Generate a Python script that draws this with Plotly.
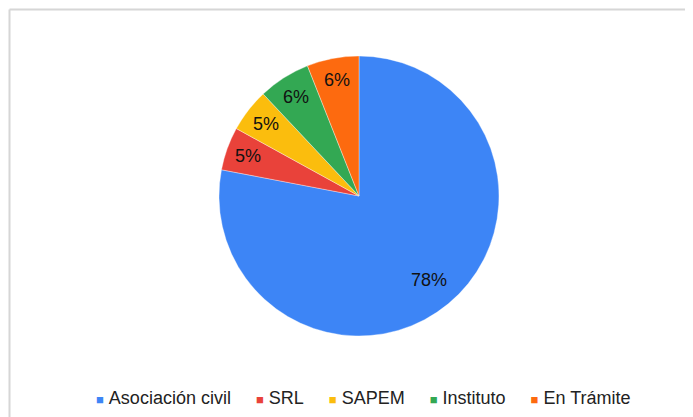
import math
import plotly.graph_objects as go

categories = ["Asociación civil", "SRL", "SAPEM", "Instituto", "En Trámite"]
shares = [78, 5, 5, 6, 6]
colors = ["#3d85f6", "#e9423a", "#fbbd0d", "#33a853", "#fd6a0f"]

# page has an 8px body margin, so the figure is a bit smaller than the window
W, H = 685, 409
CX, CY, R = 351, 188, 140

fig = go.Figure(go.Pie(
    labels=categories, values=shares, sort=False, direction="clockwise", rotation=0,
    marker=dict(colors=colors, line=dict(color="rgba(255,255,255,0.6)", width=0.6)),
    textinfo="none",
    domain=dict(x=[(CX - R) / W, (CX + R) / W], y=[1 - (CY + R) / H, 1 - (CY - R) / H]),
    hoverinfo="label+percent",
    showlegend=False,
))

# percentage labels placed along each slice's mid angle
annotations = []
total = sum(shares)
acc = 0
for share in shares:
    mid = (acc + share / 2) / total * 2 * math.pi
    acc += share
    d = R * (0.78 if share > 50 else 0.84)
    annotations.append(dict(
        x=(CX + d * math.sin(mid)) / W, y=1 - (CY - d * math.cos(mid)) / H,
        xref="paper", yref="paper", xanchor="center", yanchor="middle", showarrow=False,
        text=f"{round(share / total * 100)}%", font=dict(size=18, color="#111111"),
    ))

# legend row in the same style as the original (small squares, tight spacing)
gap = "\u00a0" * 5
items = [f"<span style='color:{c};font-size:13px'>■</span>\u00a0{lab}" for lab, c in zip(categories, colors)]
annotations.append(dict(
    x=355 / W, y=1 - 390 / H, xref="paper", yref="paper", xanchor="center", yanchor="middle",
    showarrow=False, text=gap.join(items), font=dict(size=18, color="#222222"),
))

fig.update_layout(
    width=W, height=H, margin=dict(l=0, r=0, t=0, b=0),
    paper_bgcolor="white", plot_bgcolor="white",
    font=dict(family="Liberation Sans, Arial, sans-serif", color="#222222"),
    annotations=annotations,
    shapes=[
        dict(type="line", xref="paper", yref="paper", x0=1.5 / W, x1=1.01, y0=1 - 1.5 / H, y1=1 - 1.5 / H,
             line=dict(color="#d6d6d6", width=2)),
        dict(type="line", xref="paper", yref="paper", x0=1.5 / W, x1=1.5 / W, y0=-0.01, y1=1 - 1.5 / H,
             line=dict(color="#d6d6d6", width=2)),
    ],
)

fig.write_html("out.html")
